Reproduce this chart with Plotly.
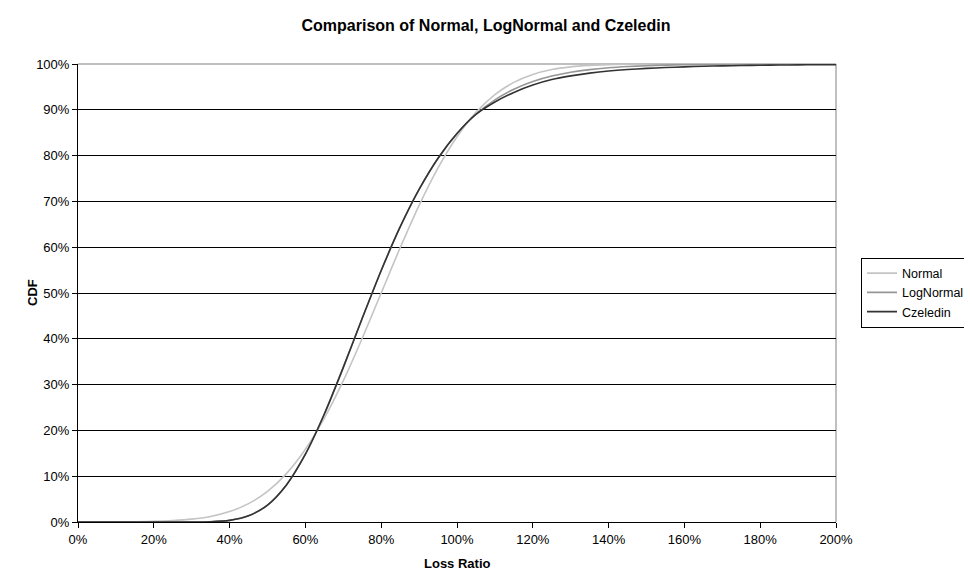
import plotly.graph_objects as go

# Loss ratio grid (fraction)
loss_ratio = [0.00, 0.05, 0.10, 0.15, 0.20, 0.25, 0.30, 0.35, 0.40, 0.45,
              0.50, 0.55, 0.60, 0.65, 0.70, 0.75, 0.80, 0.85, 0.90, 0.95,
              1.00, 1.05, 1.10, 1.15, 1.20, 1.25, 1.30, 1.35, 1.40, 1.45,
              1.50, 1.55, 1.60, 1.65, 1.70, 1.75, 1.80, 1.85, 1.90, 1.95, 2.00]

normal_cdf = [0.0000, 0.0001, 0.0002, 0.0006, 0.0013, 0.0030, 0.0062, 0.0122, 0.0228, 0.0401,
              0.0668, 0.1056, 0.1587, 0.2266, 0.3085, 0.4013, 0.5000, 0.5987, 0.6915, 0.7734,
              0.8413, 0.8944, 0.9332, 0.9599, 0.9772, 0.9878, 0.9938, 0.9970, 0.9987, 0.9994,
              0.9998, 0.9999, 0.9999, 1.0000, 1.0000, 1.0000, 1.0000, 1.0000, 1.0000, 1.0000, 1.0000]

lognormal_cdf = [0.0000, 0.0000, 0.0000, 0.0000, 0.0000, 0.0000, 0.0001, 0.0006, 0.0036, 0.0134,
                 0.0371, 0.0810, 0.1480, 0.2358, 0.3376, 0.4447, 0.5491, 0.6442, 0.7262, 0.7943,
                 0.8484, 0.8903, 0.9217, 0.9449, 0.9617, 0.9736, 0.9819, 0.9877, 0.9917, 0.9944,
                 0.9963, 0.9975, 0.9984, 0.9989, 0.9993, 0.9995, 0.9997, 0.9998, 0.9999, 0.9999, 0.9999]

czeledin_cdf = [0.0000, 0.0000, 0.0000, 0.0000, 0.0000, 0.0000, 0.0001, 0.0006, 0.0036, 0.0134,
                0.0371, 0.0810, 0.1480, 0.2358, 0.3376, 0.4447, 0.5491, 0.6442, 0.7262, 0.7943,
                0.8484, 0.8900, 0.9170, 0.9380, 0.9540, 0.9660, 0.9740, 0.9800, 0.9846, 0.9879,
                0.9904, 0.9922, 0.9938, 0.9950, 0.9959, 0.9966, 0.9972, 0.9977, 0.9981, 0.9984, 0.9986]

x_ticks = [0.0, 0.2, 0.4, 0.6, 0.8, 1.0, 1.2, 1.4, 1.6, 1.8, 2.0]
x_tick_labels = ["0%", "20%", "40%", "60%", "80%", "100%", "120%", "140%", "160%", "180%", "200%"]
y_ticks = [0.0, 0.1, 0.2, 0.3, 0.4, 0.5, 0.6, 0.7, 0.8, 0.9, 1.0]
y_tick_labels = ["0%", "10%", "20%", "30%", "40%", "50%", "60%", "70%", "80%", "90%", "100%"]

series = [
    ("Normal", normal_cdf, "#c4c4c4"),
    ("LogNormal", lognormal_cdf, "#969696"),
    ("Czeledin", czeledin_cdf, "#333333"),
]

fig = go.Figure()
for name, vals, color in series:
    fig.add_trace(go.Scatter(
        x=loss_ratio, y=vals, name=name, mode="lines",
        line=dict(color=color, width=1.6, shape="spline", smoothing=0.8),
        hoverinfo="x+y+name",
    ))

font_family = "Liberation Sans, Arial, sans-serif"

# the page body adds an 8px offset; figure is sized to the remaining window
W, H = 964, 565
L, R, T, B = 70, 136, 56, 51

fig.update_layout(
    width=W, height=H,
    margin=dict(l=L, r=R, t=T, b=B, autoexpand=False),
    paper_bgcolor="white", plot_bgcolor="white",
    font=dict(family=font_family, size=13, color="#000000"),
    title=dict(text="<b>Comparison of Normal, LogNormal and Czeledin</b>",
               x=478 / W, xref="container", xanchor="center",
               y=1 - 17 / H, yref="container", yanchor="middle",
               font=dict(size=16, family=font_family, color="#000000")),
    showlegend=True,
    legend=dict(x=853 / W, xref="container", xanchor="left",
                y=1 - 284.5 / H, yref="container", yanchor="middle",
                bgcolor="white", bordercolor="#000000", borderwidth=1,
                font=dict(size=12.5, family=font_family, color="#000000"),
                tracegroupgap=0, itemwidth=30),
    xaxis=dict(range=[0, 2], tickvals=x_ticks, ticktext=x_tick_labels,
               showgrid=False, zeroline=False, automargin=False,
               showline=True, linecolor="#000000", linewidth=1,
               ticks="outside", ticklen=5, tickcolor="#000000",
               tickfont=dict(size=13, color="#000000")),
    yaxis=dict(range=[0, 1], tickvals=y_ticks, ticktext=y_tick_labels,
               showgrid=True, gridcolor="#000000", gridwidth=1, zeroline=False,
               automargin=False,
               showline=True, linecolor="#000000", linewidth=1,
               ticks="outside", ticklen=5, tickcolor="#000000",
               tickfont=dict(size=13, color="#000000")),
    annotations=[
        dict(text="<b>Loss Ratio</b>", xref="paper", yref="paper",
             x=0.5, y=-(555 - (H - B)) / (H - T - B), xanchor="center", yanchor="middle",
             showarrow=False, font=dict(size=13, color="#000000")),
        dict(text="<b>CDF</b>", xref="paper", yref="paper",
             x=(24 - L) / (W - L - R), y=0.5, xanchor="center", yanchor="middle",
             textangle=-90, showarrow=False, font=dict(size=13, color="#000000")),
    ],
    shapes=[
        dict(type="line", xref="paper", yref="paper", x0=0, x1=1, y0=1, y1=1,
             line=dict(color="#808080", width=1), layer="below"),
        dict(type="line", xref="paper", yref="paper", x0=1, x1=1, y0=0, y1=1,
             line=dict(color="#808080", width=1), layer="below"),
    ],
)

fig.write_html("out.html")
